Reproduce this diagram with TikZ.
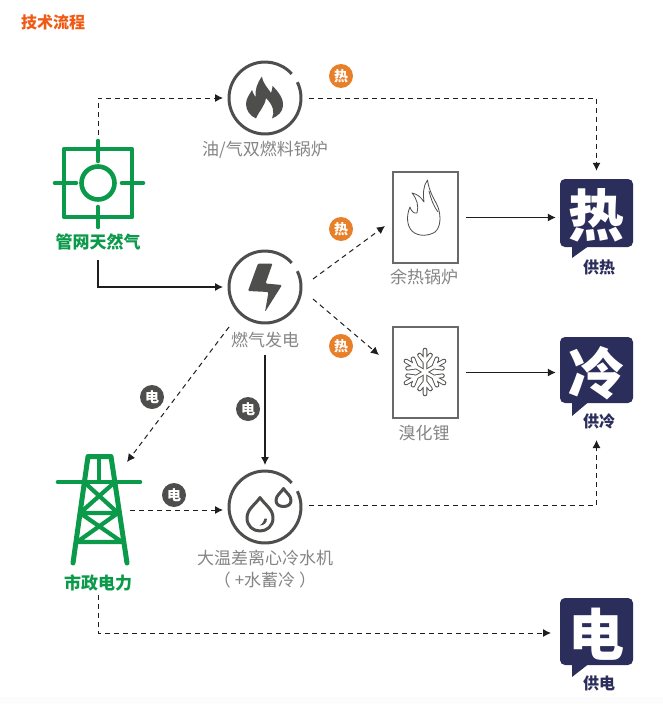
\documentclass[tikz,border=0pt]{standalone}
\usepackage{fontspec}
\setmainfont{Noto Sans CJK SC}
\usetikzlibrary{arrows.meta}
\definecolor{orangeT}{HTML}{F05A14}
\definecolor{greenG}{HTML}{0A9A4A}
\definecolor{navy}{HTML}{2B2D5B}
\definecolor{ink}{HTML}{1E1E1E}
\definecolor{dark}{HTML}{4E4E4C}
\definecolor{badgeO}{HTML}{E8802A}
\definecolor{lbl}{HTML}{858585}
\newcommand{\fs}[1]{\fontsize{#1}{#1}\selectfont}
\tikzset{
  x=1pt,y=-1pt,
  flow/.style={draw=ink,line width=1.1pt,-{Latex[length=8pt,width=8pt]}},
  dflow/.style={flow,line width=1pt,dash pattern=on 5pt off 4pt},
  anchorbox/.style={inner sep=0pt,outer sep=0pt,minimum size=84pt,shape=circle},
  lab/.style={inner sep=0pt,text=lbl,font=\fs{17},align=center},
  gcap/.style={inner sep=0pt,text=greenG,font=\fs{17}\bfseries},
  ncap/.style={inner sep=0pt,text=navy,font=\fs{16}\bfseries},
  badgeH/.style={circle,fill=badgeO,text=white,inner sep=0pt,minimum size=24pt,font=\fs{14}\bfseries},
  badgeE/.style={circle,fill=dark,text=white,inner sep=0pt,minimum size=24pt,font=\fs{14}\bfseries},
  bubble/.style={fill=navy,rounded corners=5pt,text=white,font=\fs{56}\bfseries,inner sep=0pt,minimum width=73pt,minimum height=68pt,text depth=0pt},
  devbox/.style={draw=dark!85,line width=1.5pt,fill=white,minimum width=65pt,minimum height=91pt,inner sep=0pt},
  ringline/.style={draw=dark,line width=3pt},
  gline/.style={draw=greenG,line width=4.6pt,line cap=round,line join=round},
}
\newcommand{\ringat}[2]{\draw[ringline] (#1,#2)++(-26:36) arc[start angle=-26,delta angle=344,radius=36];}
\begin{document}
\begin{tikzpicture}
\useasboundingbox (0,0) rectangle (663,704);
\fill[white] (0,0) rectangle (663,704);
\fill[black!1] (0,697) rectangle (663,704);

\node[inner sep=0pt,text=orangeT,font=\fs{16}\bfseries] (title) at (53,22) {技术流程};

% natural gas icon
\node[inner sep=0pt,outer sep=0pt,minimum width=90pt,minimum height=96pt] (gas) at (98,183) {};
\draw[gline] (64,149) rectangle (132,217);
\draw[gline] (98,183) circle (16.5);
\draw[gline] (98,141) -- (98,161) (98,207) -- (98,227) (55,183) -- (76,183) (122,183) -- (143,183);
\node[gcap] (gasL) at (98,242) {管网天然气};

% boiler
\node[anchorbox] (boiler) at (265,98) {};
\ringat{265}{98}
\fill[dark] (262,76.5) .. controls (263,84) and (268,88) .. (271,93)
  .. controls (272,90) and (272.5,88) .. (272.5,86)
  .. controls (279,92) and (284,100) .. (283,106)
  .. controls (282.5,112) and (278,116) .. (272,118.5)
  .. controls (275,112) and (273,105) .. (266,98)
  .. controls (265,106) and (259,111) .. (256,118.5)
  .. controls (250,116) and (246,110) .. (246,104)
  .. controls (246,98) and (250,94) .. (252,90)
  .. controls (253,93) and (254,95) .. (255.5,97)
  .. controls (255,90) and (257,83) .. (262,76.5) -- cycle;
\node[lab] (boilerL) at (265,150) {油/气双燃料锅炉};

% power
\node[anchorbox] (power) at (265,287) {};
\ringat{265}{287}
\fill[dark,rounded corners=1.2pt] (258,263.5) -- (272.5,263.5) -- (265.5,283.5) -- (282,285) -- (265,312) -- (268.5,292) -- (248,291) -- cycle;
\node[lab] (powerL) at (265,340) {燃气发电};

% chiller
\node[anchorbox] (chiller) at (265,507) {};
\ringat{265}{507}
\draw[dark,line width=3pt,line join=round] (260,497.5) .. controls (255,505) and (247,509) .. (247,518)
  .. controls (247,526) and (253,531) .. (260,531)
  .. controls (267,531) and (273,526) .. (273,518)
  .. controls (273,509) and (265,505) .. (260,497.5) -- cycle;
\draw[dark,line width=3pt,line join=round] (283.5,488.5) .. controls (281,493) and (276,495) .. (276,500.5)
  .. controls (276,504.5) and (279.5,506.5) .. (283.5,506.5)
  .. controls (287.5,506.5) and (291,504.5) .. (291,500.5)
  .. controls (291,495) and (286,493) .. (283.5,488.5) -- cycle;
\fill[dark] (267,518.5) .. controls (267,523) and (264,525.5) .. (259.5,525.5) .. controls (263,523.5) and (264,521) .. (264.5,518.5) -- cycle;
\node[lab] (chillerL) at (265,558) {大温差离心冷水机};
\node[lab] (chillerM) at (265,580) {（ +水蓄冷 ）};

% recovery boiler
\node[devbox] (recover) at (425.5,217.5) {};
\draw[dark,line width=0.8pt,line join=round] (427.5,180) .. controls (423,186) and (423,194) .. (424,202)
  .. controls (421,197) and (417,194) .. (412,193)
  .. controls (417,199) and (419,206) .. (417,213)
  .. controls (414,214) and (411,211) .. (410,207)
  .. controls (406,216) and (407,226) .. (412,231)
  .. controls (418,237) and (429,236) .. (435,232)
  .. controls (441,227) and (441,216) .. (438,207)
  .. controls (435,200) and (429,192) .. (427.5,180) -- cycle;
\draw[dark,line width=0.8pt] (429,191) .. controls (431,199) and (433,205) .. (438,212);
\node[lab] (recoverL) at (424,277) {余热锅炉};

% lithium bromide
\node[devbox] (libr) at (425.5,372.5) {};
\foreach \pass/\col/\wd in {1/dark/4.6,2/white/2.8}{
\begin{scope}[shift={(425,372)}]
\foreach \a in {30,90,...,330}{
  \begin{scope}[rotate=\a]
  \draw[\col,line width=\wd pt,line cap=round,line join=round] (0,0) -- (22,0) (10,0) -- (17,5.5) (10,0) -- (17,-5.5);
  \end{scope}
}
\end{scope}}
\node[lab] (librL) at (424,433) {溴化锂};

% output bubbles
\fill[navy] (572,244) -- (572,258) -- (588,246.5) -- cycle;
\node[bubble] (heat) at (596.5,213) {热};
\node[ncap] (heatL) at (599,267) {供热};
\fill[navy] (572,400) -- (572,416) -- (588,402.5) -- cycle;
\node[bubble,minimum height=66pt] (cold) at (596.5,370) {冷};
\node[ncap] (coldL) at (599,421) {供冷};
\fill[navy] (572,662) -- (572,677) -- (588,664.5) -- cycle;
\node[bubble,minimum height=67pt] (elec) at (596.5,631.5) {电};
\node[ncap] (elecL) at (599,683) {供电};

% tower
\draw[gline,line width=5pt] (73,563) -- (88,456.5) -- (111,456.5) -- (127,563);
\draw[gline] (58,482) -- (140,482);
\draw[gline,line width=4pt] (99,457) -- (99,482);
\draw[gline,line width=4.2pt,line cap=butt] (84,482) -- (118,513) (115,482) -- (80,513) (80,513) -- (118,513)
  (80,513) -- (122,542) (118,513) -- (77,542) (77,542) -- (122,542);
\node[inner sep=0pt,outer sep=0pt,minimum width=92pt,minimum height=108pt] (tower) at (98.5,510) {};
\node[gcap] (towerL) at (98,583) {市政电力};

% free ends
\coordinate (p1) at (313,279);
\coordinate (p2) at (313,299);
\coordinate (p3) at (229,327);
\coordinate (r1) at (385,226);
\coordinate (l1) at (379,355);
\coordinate (t1) at (127,462);
\coordinate (gasA) at (98,260);
\coordinate (elecIn) at (551,633);
\coordinate (pwrOut) at (265,355);
\coordinate (towOut) at (130,510);
\coordinate (chIn) at (223,510);
\coordinate (chOut) at (309,505);
\coordinate (coldIn) at (596.5,440);

% connectors
\draw[dflow] (gas.north) |- (boiler.west);
\draw[flow] (gasA) |- (power.west);
\draw[dflow,shorten <=2pt,shorten >=8pt] (boiler.east) -| (heat.north);
\draw[flow,shorten <=7pt,shorten >=4pt] (recover.east) -- (heat.west |- recover.east);
\draw[flow,shorten <=7pt,shorten >=4pt] (libr.east) -- (cold.west |- libr.east);
\draw[dflow] (p1) -- (r1);
\draw[dflow] (p2) -- (l1);
\draw[dflow] (p3) -- (t1);
\draw[flow] (pwrOut) -- (chiller.north);
\draw[dflow] (towOut) -- (chIn);
\draw[dflow] (chOut) -| (coldIn);
\draw[dflow,shorten <=4pt] (towerL.south) |- (elecIn);

% badges
\node[badgeH] (b1) at (341,76) {热};
\node[badgeH] (b2) at (341,229) {热};
\node[badgeH] (b3) at (341,346) {热};
\node[badgeE] (b4) at (152,397) {电};
\node[badgeE] (b5) at (248,409) {电};
\node[badgeE] (b6) at (174,495) {电};
\end{tikzpicture}
\end{document}
